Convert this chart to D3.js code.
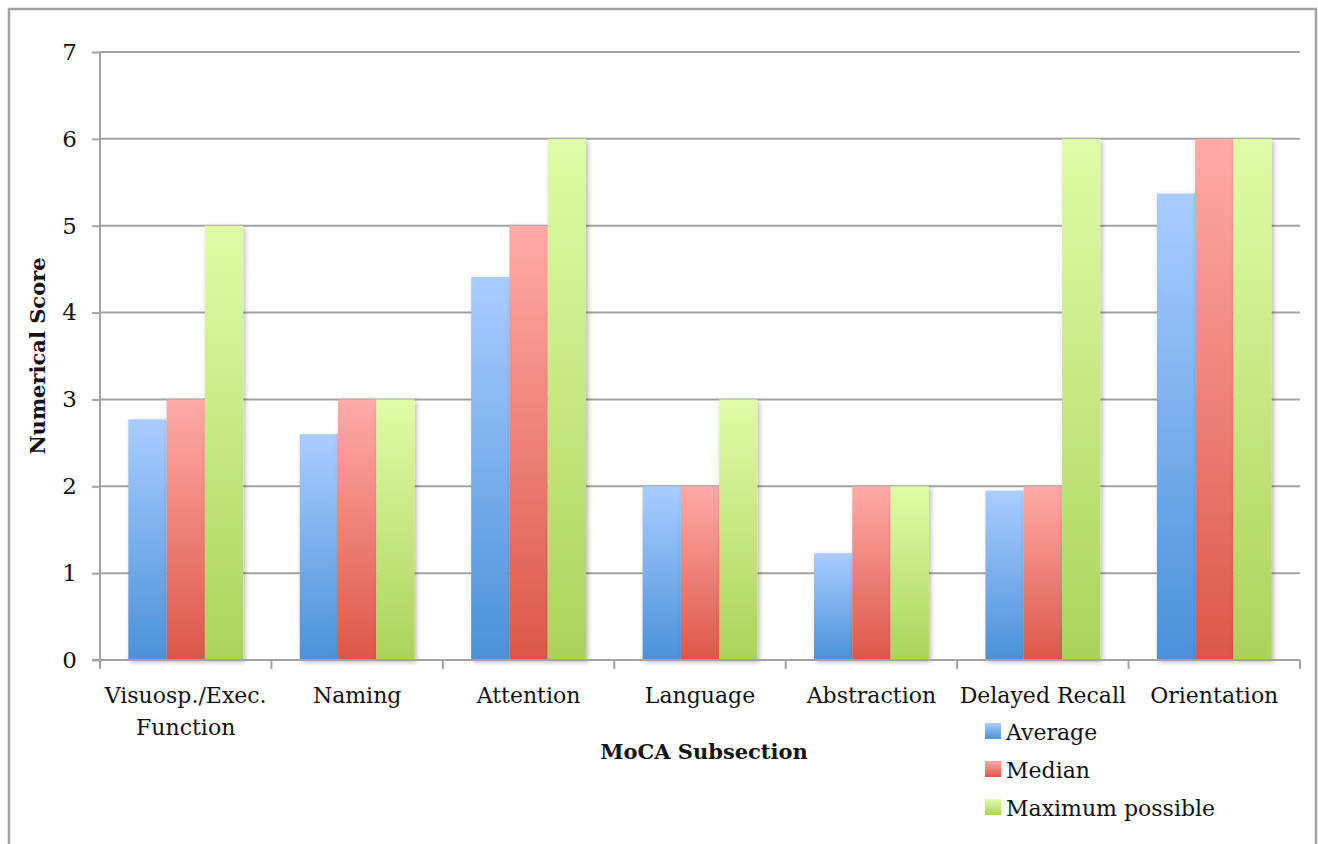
<!DOCTYPE html>
<html>
<head>
<meta charset="utf-8">
<script src="https://cdn.jsdelivr.net/npm/d3@7"></script>
<style>
  html, body { margin: 0; padding: 0; background: #fff; }
  svg { display: block; }
  text { font-family: "DejaVu Serif", "Liberation Serif", serif; fill: #111; }
</style>
</head>
<body>
<svg id="chart" width="1318" height="844"></svg>
<script>
// MoCA subsection scores
const categories = [
  ["Visuosp./Exec.", "Function"],
  ["Naming"],
  ["Attention"],
  ["Language"],
  ["Abstraction"],
  ["Delayed Recall"],
  ["Orientation"]
];
const seriesNames = ["Average", "Median", "Maximum possible"];
const averageValues = [2.77, 2.60, 4.41, 2.00, 1.23, 1.95, 5.37];
const medianValues  = [3, 3, 5, 2, 2, 2, 6];
const maximumValues = [5, 3, 6, 3, 2, 6, 6];
const yTicks = [0, 1, 2, 3, 4, 5, 6, 7];

const seriesValues = [averageValues, medianValues, maximumValues];
const gradients = [
  { top: "#aacdff", bottom: "#4b91d8" },
  { top: "#ffaba8", bottom: "#db5749" },
  { top: "#e0fca8", bottom: "#add25b" }
];

const FONT = "DejaVu Serif, Liberation Serif, serif";
const svg = d3.select("#chart");
const margin = { left: 100, right: 1300, top: 52, bottom: 660 };

const defs = svg.append("defs");
gradients.forEach((g, i) => {
  const lg = defs.append("linearGradient")
    .attr("id", "grad" + i)
    .attr("x1", 0).attr("y1", 0).attr("x2", 0).attr("y2", 1);
  lg.append("stop").attr("offset", "0%").attr("stop-color", g.top);
  lg.append("stop").attr("offset", "100%").attr("stop-color", g.bottom);
});
const shadow = defs.append("filter").attr("id", "shadow")
  .attr("x", "-20%").attr("y", "-5%").attr("width", "150%").attr("height", "115%");
shadow.append("feDropShadow")
  .attr("dx", 2).attr("dy", 2).attr("stdDeviation", 2.5)
  .attr("flood-color", "#000").attr("flood-opacity", 0.28);

// outer frame (open at the bottom edge)
svg.append("path")
  .attr("d", "M9,850 L9,9 L1316,9 L1316,850")
  .attr("fill", "none").attr("stroke", "#a3a3a3").attr("stroke-width", 2.5);

const x0 = d3.scaleBand()
  .domain(d3.range(categories.length))
  .range([margin.left, margin.right])
  .paddingInner(0).paddingOuter(0);
const x1 = d3.scaleBand()
  .domain(d3.range(seriesNames.length))
  .range([0, x0.bandwidth()])
  .paddingOuter(0.74).paddingInner(0);
const y = d3.scaleLinear().domain([0, 7]).range([margin.bottom, margin.top]);

// horizontal gridlines
svg.append("g").selectAll("line").data(yTicks.filter(t => t > 0)).join("line")
  .attr("x1", margin.left).attr("x2", margin.right)
  .attr("y1", d => y(d)).attr("y2", d => y(d))
  .attr("stroke", "#a3a3a3").attr("stroke-width", 2);

// bars
const groups = svg.append("g").selectAll("g").data(categories).join("g")
  .attr("transform", (d, i) => `translate(${x0(i)},0)`);
groups.each(function (d, ci) {
  d3.select(this).selectAll("rect")
    .data(seriesValues.map((vals, si) => ({ si, v: vals[ci] })))
    .join("rect")
    .attr("x", e => x1(e.si))
    .attr("width", x1.bandwidth())
    .attr("y", e => y(e.v))
    .attr("height", e => y(0) - y(e.v))
    .attr("fill", e => `url(#grad${e.si})`)
    .attr("filter", "url(#shadow)");
});

// y axis
const yAxis = d3.axisLeft(y).tickValues(yTicks).tickSize(8).tickPadding(15).tickFormat(d3.format("d"));
const gy = svg.append("g").attr("transform", `translate(${margin.left},0)`).call(yAxis);
gy.select(".domain").attr("stroke", "#a3a3a3").attr("stroke-width", 2)
  .attr("d", `M0,${margin.bottom + 8}V${margin.top}`);
gy.selectAll(".tick line").attr("stroke", "#a3a3a3").attr("stroke-width", 2);
gy.selectAll(".tick text").attr("font-size", 23).attr("fill", "#111")
  .attr("font-family", FONT);

// x axis
const gx = svg.append("g").attr("transform", `translate(0,${margin.bottom})`);
gx.append("line").attr("x1", margin.left - 8).attr("x2", margin.right)
  .attr("stroke", "#a3a3a3").attr("stroke-width", 2);
gx.selectAll("line.tick").data(d3.range(categories.length + 1)).join("line")
  .attr("class", "tick")
  .attr("x1", i => margin.left + i * x0.step()).attr("x2", i => margin.left + i * x0.step())
  .attr("y1", 0).attr("y2", 9)
  .attr("stroke", "#a3a3a3").attr("stroke-width", 2);
gx.selectAll("text").data(categories).join("text")
  .attr("text-anchor", "middle")
  .attr("font-size", 22)
  .each(function (lines, i) {
    const t = d3.select(this);
    lines.forEach((ln, k) => {
      t.append("tspan")
        .attr("x", x0(i) + x0.bandwidth() / 2)
        .attr("y", 43 + k * 32)
        .text(ln);
    });
  });

// axis titles
svg.append("text")
  .attr("transform", "translate(45,356) rotate(-90)")
  .attr("text-anchor", "middle")
  .attr("font-size", 21).attr("font-weight", "bold")
  .text("Numerical Score");
svg.append("text")
  .attr("x", 704).attr("y", 759)
  .attr("text-anchor", "middle")
  .attr("font-size", 21).attr("font-weight", "bold")
  .text("MoCA Subsection");

// legend
const legend = svg.append("g").attr("transform", "translate(985,723)");
const items = legend.selectAll("g").data(seriesNames).join("g")
  .attr("transform", (d, i) => `translate(0,${i * 38})`);
items.append("rect").attr("width", 16).attr("height", 16)
  .attr("fill", (d, i) => `url(#grad${i})`);
items.append("text").attr("x", 21).attr("y", 17)
  .attr("font-size", 22).text(d => d);
</script>
</body>
</html>
